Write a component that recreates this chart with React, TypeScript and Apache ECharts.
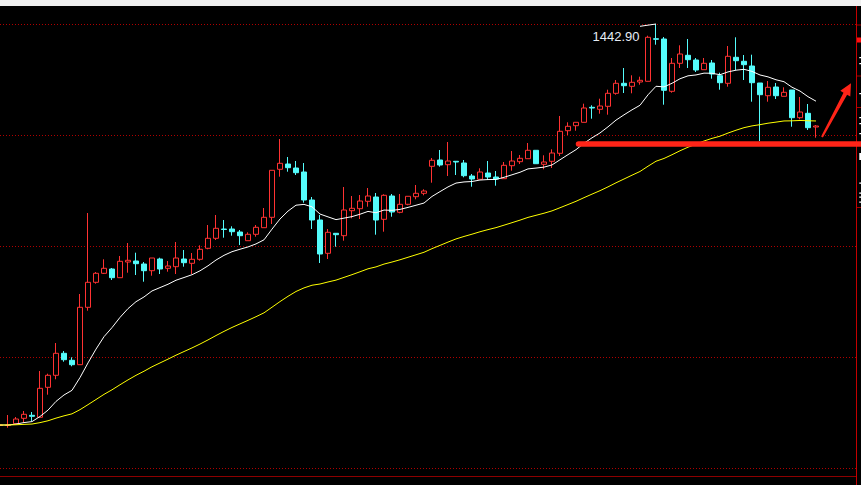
import React, { useEffect, useRef } from "react";
import * as echarts from "echarts";

// OHLC values (price units)
const opens = [
  1242.15, 1242.15, 1243.05, 1245.75, 1247.25, 1246.25, 1261.25, 1267.25, 1278.25, 1274.75,
  1272.55, 1301.25, 1313.75, 1318.25, 1320.4, 1316.05, 1323.9, 1324.4, 1322.9, 1319.55,
  1325.4, 1320.75, 1321.55, 1325.4, 1323.25, 1325.25, 1330.75, 1335.75, 1340.4, 1340.4,
  1338.9, 1334.55, 1337.75, 1341.05, 1346.25, 1370.25, 1372.9, 1370.9, 1368.9, 1354.9,
  1344.9, 1328.25, 1338.25, 1337.05, 1349.55, 1350.55, 1354.25, 1356.4, 1345.25, 1356.9,
  1348.75, 1352.75, 1356.55, 1358.25, 1371.75, 1374.9, 1372.55, 1374.25, 1373.4, 1366.9,
  1365.25, 1368.4, 1366.4, 1365.55, 1372.05, 1374.05, 1375.55, 1379.75, 1372.75, 1374.25,
  1378.25, 1389.55, 1392.05, 1393.75, 1401.25, 1400.25, 1401.75, 1408.25, 1413.25, 1411.75,
  1413.9, 1414.25, 1435.55, 1435.4, 1409.25, 1423.25, 1427.25, 1424.9, 1420.05, 1423.4,
  1417.05, 1413.25, 1426.25, 1424.25, 1421.9, 1413.4, 1407.05, 1411.4, 1406.75, 1409.9,
  1396.05, 1398.25, 1391.4,
];
const closes = [
  1242.4, 1242.4, 1245.4, 1247.75, 1246.75, 1260.75, 1267.25, 1278.25, 1275.05, 1272.55,
  1301.25, 1313.75, 1318.25, 1320.75, 1316.05, 1324.25, 1324.75, 1323.05, 1319.55, 1325.9,
  1320.4, 1321.9, 1325.9, 1323.55, 1325.25, 1330.25, 1335.75, 1340.75, 1340.15, 1339.05,
  1337.05, 1337.75, 1341.25, 1346.25, 1369.75, 1373.25, 1371.05, 1368.55, 1354.9, 1344.9,
  1327.9, 1338.75, 1337.55, 1349.9, 1350.75, 1354.4, 1356.9, 1344.9, 1357.25, 1348.9,
  1352.75, 1356.75, 1358.25, 1359.4, 1374.75, 1372.4, 1374.4, 1373.9, 1367.05, 1365.4,
  1368.9, 1366.4, 1365.4, 1372.25, 1374.4, 1375.75, 1379.75, 1373.05, 1373.9, 1378.4,
  1389.25, 1391.75, 1393.75, 1400.9, 1400.9, 1401.9, 1408.25, 1413.25, 1412.05, 1413.75,
  1414.75, 1436.25, 1435.25, 1409.75, 1423.25, 1427.9, 1425.05, 1419.9, 1423.25, 1417.9,
  1413.55, 1426.75, 1424.55, 1422.55, 1413.55, 1407.55, 1411.25, 1407.05, 1408.75, 1396.05,
  1398.9, 1391.05, 1391.9,
];
const highs = [
  1245.4, 1247.4, 1246.4, 1249.4, 1248.9, 1269.4, 1268.05, 1283.4, 1279.4, 1276.25,
  1307.9, 1348.4, 1318.9, 1325.25, 1320.9, 1326.9, 1333.4, 1328.55, 1323.9, 1325.9,
  1326.05, 1324.4, 1333.9, 1329.9, 1328.4, 1332.25, 1342.4, 1347.4, 1344.9, 1341.75,
  1339.9, 1338.75, 1342.4, 1350.9, 1369.75, 1385.4, 1376.4, 1374.4, 1373.4, 1356.4,
  1347.4, 1340.4, 1338.25, 1361.4, 1356.9, 1357.4, 1360.9, 1358.4, 1357.75, 1357.9,
  1357.9, 1356.75, 1362.4, 1360.25, 1375.9, 1379.9, 1383.9, 1374.4, 1374.9, 1367.9,
  1370.75, 1374.4, 1369.4, 1373.9, 1379.4, 1377.4, 1383.4, 1379.75, 1377.25, 1380.25,
  1396.9, 1393.75, 1393.75, 1403.05, 1402.25, 1405.55, 1410.05, 1414.9, 1420.9, 1417.25,
  1416.55, 1437.05, 1442.9, 1436.4, 1425.9, 1432.25, 1435.4, 1425.9, 1425.9, 1424.9,
  1418.55, 1431.9, 1436.25, 1427.4, 1427.55, 1413.4, 1414.4, 1413.4, 1411.25, 1409.9,
  1406.4, 1402.9, 1392.4,
];
const lows = [
  1239.9, 1241.05, 1243.05, 1243.55, 1244.4, 1246.25, 1257.55, 1265.25, 1274.05, 1271.75,
  1272.55, 1299.55, 1313.05, 1317.9, 1314.9, 1316.05, 1318.55, 1317.4, 1314.05, 1317.05,
  1317.9, 1319.05, 1317.9, 1321.55, 1317.9, 1324.55, 1330.25, 1334.9, 1336.05, 1337.05,
  1332.4, 1334.55, 1336.55, 1341.05, 1342.9, 1366.55, 1369.05, 1367.4, 1353.55, 1340.4,
  1323.4, 1325.4, 1331.55, 1334.55, 1345.75, 1345.4, 1351.55, 1337.55, 1339.05, 1346.55,
  1348.25, 1352.25, 1355.25, 1357.25, 1363.55, 1371.55, 1366.9, 1367.4, 1366.25, 1361.55,
  1365.25, 1364.9, 1362.05, 1365.55, 1369.55, 1372.9, 1375.55, 1373.05, 1370.25, 1370.9,
  1376.9, 1387.4, 1389.55, 1393.75, 1395.55, 1398.05, 1397.55, 1407.55, 1408.4, 1408.25,
  1412.55, 1414.25, 1432.55, 1402.55, 1408.55, 1420.9, 1420.9, 1418.9, 1420.05, 1415.55,
  1410.05, 1411.55, 1419.75, 1414.9, 1404.05, 1384.4, 1404.05, 1405.4, 1406.75, 1391.55,
  1395.25, 1389.9, 1386.05,
];
// empty slots to the right of the last bar (blank space before the price axis)
const blankSlots = 5;
const categories = [
  ...closes.map((_, i) => String(i + 1)),
  ...Array.from({ length: blankSlots }, () => ""),
];

// EXPMA periods (white fast, yellow slow)
const fastPeriod = 12;
const slowPeriod = 50;

// price axis range and the drawn support level
const priceMin = 1220.9;
const priceMax = 1442.9;
const supportLevel = 1382.9;
const supportStartIndex = 72;

function expma(values: number[], n: number): number[] {
  const out: number[] = [];
  let prev = values[0];
  values.forEach((v, i) => {
    prev = i === 0 ? v : (2 * v + (n - 1) * prev) / (n + 1);
    out.push(+prev.toFixed(2));
  });
  return out;
}

const RED = "#ff3232";
const CYAN = "#54fcfc";
const GRID_RED = "#b00000";

export default function App() {
  const ref = useRef<HTMLDivElement>(null);

  useEffect(() => {
    if (!ref.current) return;
    const chart = echarts.init(ref.current, null, { renderer: "svg" });
    const candleData = opens.map((o, i) => [o, closes[i], lows[i], highs[i]]);

    chart.setOption({
      animation: false,
      backgroundColor: "#000000",
      grid: { left: 0, right: 5, top: 24, bottom: 17, containLabel: false },
      xAxis: {
        type: "category",
        data: categories,
        boundaryGap: false,
        show: false,
      },
      yAxis: [
        {
          type: "value",
          min: priceMin,
          max: priceMax,
          show: false,
          splitLine: { show: false },
        },
        {
          type: "value",
          min: 0,
          max: 4,
          interval: 1,
          position: "left",
          axisLine: { show: false },
          axisTick: { show: false },
          axisLabel: { show: false },
          splitLine: {
            show: true,
            lineStyle: { color: GRID_RED, width: 1, type: [1, 2] },
          },
        },
      ],
      series: [
        {
          type: "candlestick",
          data: candleData,
          barWidth: 6,
          clip: false,
          silent: true,
          itemStyle: {
            color: "#000000",
            color0: CYAN,
            borderColor: RED,
            borderColor0: CYAN,
            borderWidth: 1,
          },
        },
        {
          type: "line",
          data: expma(closes, fastPeriod),
          symbol: "none",
          silent: true,
          lineStyle: { color: "#ffffff", width: 1 },
          z: 3,
        },
        {
          type: "line",
          data: expma(closes, slowPeriod),
          symbol: "none",
          silent: true,
          lineStyle: { color: "#ffff00", width: 1 },
          z: 3,
        },
      ],
    });

    const maxHigh = Math.max(...highs);
    const maxIdx = highs.indexOf(maxHigh);
    const [px, py] = chart.convertToPixel({ seriesIndex: 0 }, [maxIdx, maxHigh]) as number[];
    const [sx, sy] = chart.convertToPixel({ seriesIndex: 0 }, [supportStartIndex, supportLevel]) as number[];

    const whiteBits: [number, number][] = [
      [57, 1.2], [63, 1.2], [93, 1.2], [117, 1.2], [123, 1.2], [133, 1.2],
      [153, 7], [182.5, 1.2], [192.5, 1.2], [196.5, 1.2], [201.5, 1.2],
    ];

    chart.setOption({
      graphic: [
        { type: "rect", silent: true, z: 100, shape: { x: 0, y: 0, width: 861, height: 6 }, style: { fill: "#f0f0f0" } },
        { type: "line", silent: true, z: 100, shape: { x1: 0, y1: 476.5, x2: 856, y2: 476.5 }, style: { stroke: "#8c0000", lineWidth: 1 } },
        { type: "line", silent: true, z: 100, shape: { x1: 856.5, y1: 6, x2: 856.5, y2: 485 }, style: { stroke: "#c40000", lineWidth: 1 } },
        ...[25, 76, 107.5, 207.5].map((y) => ({
          type: "line", silent: true, z: 100,
          shape: { x1: 857, y1: y, x2: 861, y2: y },
          style: { stroke: "#a00000", lineWidth: 1 },
        })),
        { type: "rect", silent: true, z: 100, shape: { x: 857, y: 37.5, width: 4, height: 5 }, style: { fill: "#ff1010" } },
        ...whiteBits.map(([y, h]) => ({
          type: "rect", silent: true, z: 100,
          shape: { x: 859.3, y, width: 1.7, height: h },
          style: { fill: "#ffffff" },
        })),
        {
          type: "line", silent: true, z: 100,
          shape: { x1: sx + 2.5, y1: sy, x2: 866, y2: sy },
          style: { stroke: "#ff2418", lineWidth: 5.5, lineCap: "round" },
        },
        {
          type: "polygon", silent: true, z: 100,
          shape: {
            points: [
              [821.1, 136.4], [843.5, 92.8], [840.3, 90.8], [851, 83.3],
              [850.3, 96.6], [847.1, 94.8], [822.9, 137.4],
            ],
          },
          style: { fill: "#ff2418" },
        },
        {
          type: "line", silent: true, z: 100,
          shape: { x1: px - 16, y1: py + 2.3, x2: px, y2: py },
          style: { stroke: "#ffffff", lineWidth: 1 },
        },
        {
          type: "text", silent: true, z: 100,
          x: px - 16.5, y: py + 12.5,
          style: {
            text: maxHigh.toFixed(2),
            fill: "#e6ecf5",
            font: "13px 'Liberation Sans', Arial, sans-serif",
            align: "right",
            verticalAlign: "middle",
          },
        },
      ],
    });

    return () => chart.dispose();
  }, []);

  return (
    <div
      ref={ref}
      style={{ position: "fixed", left: 0, top: 0, width: 861, height: 485 }}
    />
  );
}
